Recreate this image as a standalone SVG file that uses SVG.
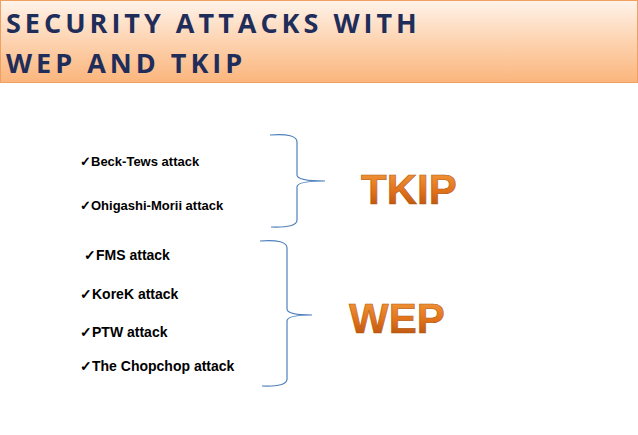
<svg xmlns="http://www.w3.org/2000/svg" width="638" height="435" viewBox="0 0 638 435">
<defs>
<linearGradient id="hdr" x1="0" y1="0" x2="0" y2="1">
<stop offset="0" stop-color="#fff3ea"/><stop offset="0.5" stop-color="#fdd3b0"/><stop offset="1" stop-color="#fbb57c"/>
</linearGradient>
<linearGradient id="big" x1="0" y1="0" x2="0" y2="1">
<stop offset="0" stop-color="#f7a040"/><stop offset="0.55" stop-color="#e0701a"/><stop offset="1" stop-color="#a84a0c"/>
</linearGradient>
</defs>
<style>
.t{font-family:"Open Sans","Liberation Sans",sans-serif;font-weight:bold;fill:#1f2d5a;font-size:27px;letter-spacing:4px}
.i{font-family:"Liberation Sans",Arial,sans-serif;font-weight:bold;fill:#000}
.b{fill:none;stroke:#4f81bd;stroke-width:1.2}
.k{font-family:"Liberation Sans",Arial,sans-serif;font-weight:bold;fill:url(#big);stroke:#b05a10;stroke-width:0.6;font-size:42px}
</style>
<rect x="0.5" y="0.5" width="637" height="82" fill="url(#hdr)" stroke="#f0a060"/>
<text class="t" x="6" y="33">SECURITY ATTACKS WITH</text>
<text class="t" x="6" y="73">WEP AND TKIP</text>
<g id="items">
<text class="i" x="80" y="166" font-size="13">✓Beck-Tews attack</text>
<text class="i" x="80" y="210" font-size="13">✓Ohigashi-Morii attack</text>
<text class="i" x="84" y="260" font-size="14">✓FMS attack</text>
<text class="i" x="80" y="299" font-size="14">✓KoreK attack</text>
<text class="i" x="80" y="337" font-size="14">✓PTW attack</text>
<text class="i" x="80" y="371" font-size="14">✓The Chopchop attack</text>
</g>
<g id="connectors">
<path class="b" d="M270,135 Q297,133 297,142 L297,175 Q297,181 325,181 Q297,181 297,187 L297,220 Q297,228 271,227"/>
<path class="b" d="M260,241 Q287,239 287,248 L287,309 Q287,315 312,315 Q287,315 287,321 L287,379 Q287,387 262,386"/>
</g>
<g id="tkip"><text class="k" x="361" y="204">TKIP</text></g>
<g id="wep"><text class="k" x="349" y="333">WEP</text></g>
</svg>
